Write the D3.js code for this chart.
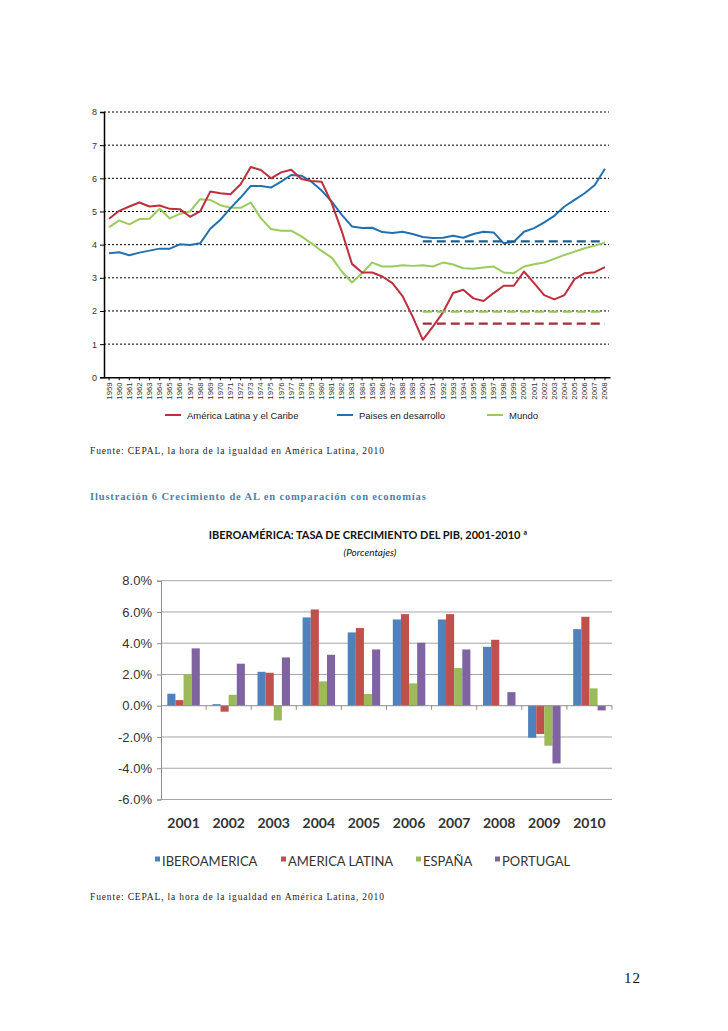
<!DOCTYPE html>
<html>
<head>
<meta charset="utf-8">
<script src="https://cdn.jsdelivr.net/npm/d3@7/dist/d3.min.js"></script>
<style>
  body { margin: 0; background: #fff; }
  svg { display: block; }
  .serif { font-family: "Liberation Serif", "DejaVu Serif", serif; }
</style>
</head>
<body>
<script>
// ---- grafico 1: crecimiento del PIB 1959-2008 (medias moviles)
var anios = ["1959","1960","1961","1962","1963","1964","1965","1966","1967","1968","1969",
  "1970","1971","1972","1973","1974","1975","1976","1977","1978","1979","1980","1981","1982",
  "1983","1984","1985","1986","1987","1988","1989","1990","1991","1992","1993","1994","1995",
  "1996","1997","1998","1999","2000","2001","2002","2003","2004","2005","2006","2007","2008"];
var americaLatina = [4.78,5.02,5.15,5.27,5.15,5.18,5.08,5.07,4.84,5.0,5.6,5.55,5.52,5.82,6.34,6.25,
  6.0,6.18,6.26,5.98,5.92,5.9,5.25,4.4,3.42,3.16,3.16,3.04,2.84,2.45,1.83,1.13,1.53,1.96,2.54,
  2.64,2.38,2.3,2.54,2.76,2.76,3.19,2.84,2.48,2.35,2.48,2.96,3.14,3.17,3.32];
var paisesDesarrollo = [3.74,3.77,3.68,3.76,3.82,3.88,3.88,4.01,3.99,4.04,4.48,4.75,5.1,5.42,5.77,
  5.77,5.72,5.9,6.1,6.08,5.9,5.63,5.3,4.9,4.55,4.5,4.51,4.38,4.35,4.39,4.32,4.23,4.2,4.21,4.27,
  4.21,4.32,4.39,4.37,4.04,4.09,4.39,4.5,4.67,4.87,5.15,5.35,5.55,5.8,6.29];
var mundo = [4.53,4.73,4.61,4.77,4.78,5.08,4.79,4.93,5.0,5.37,5.35,5.19,5.11,5.11,5.27,4.8,4.47,
  4.42,4.42,4.25,4.04,3.81,3.61,3.19,2.86,3.14,3.46,3.34,3.34,3.38,3.36,3.38,3.34,3.46,3.4,3.29,
  3.27,3.31,3.34,3.16,3.14,3.34,3.41,3.46,3.57,3.69,3.79,3.89,3.97,4.06];
var nombresLineas = ["América Latina y el Caribe","Paises en desarrollo","Mundo"];
var coloresLineas = ["#be2f3e","#2271b1","#9acb5c"];
var promedios = [1.62, 4.1, 1.98];          // 1990-2008, mismo orden que las series
var coloresPromedio = ["#a82a38","#1c5f8c","#93c45a"];
var yTicks1 = [0,1,2,3,4,5,6,7,8];

// ---- grafico 2: Iberoamerica, tasa de crecimiento del PIB 2001-2010
var anios2 = ["2001","2002","2003","2004","2005","2006","2007","2008","2009","2010"];
var paises2 = ["IBEROAMERICA","AMERICA LATINA","ESPAÑA","PORTUGAL"];
var iberoamerica = [0.77,0.1,2.17,5.65,4.69,5.52,5.52,3.77,-2.05,4.9];
var americaLatina2 = [0.36,-0.38,2.11,6.16,4.97,5.86,5.86,4.22,-1.81,5.69];
var espana = [2.0,0.7,-0.94,1.56,0.75,1.43,2.41,0.0,-2.56,1.11];
var portugal = [3.67,2.69,3.09,3.26,3.6,4.03,3.6,0.87,-3.69,-0.3];
var coloresBarras = ["#4f81bd","#c0504d","#9bbb59","#8064a2"];
var yTicks2 = [-6,-4,-2,0,2,4,6,8];

var svg = d3.select("body").append("svg").attr("width", 728).attr("height", 1031);
svg.append("rect").attr("width", 728).attr("height", 1031).attr("fill", "#fff");

// ================= grafico 1
var g1 = svg.append("g").attr("font-family", "'Liberation Sans', Arial, sans-serif");
var x = d3.scaleBand().domain(anios).range([104, 610]);
var y = d3.scaleLinear().domain([0, 8]).range([377.3, 112]);
var cx = function(a) { return x(a) + x.bandwidth() / 2; };

g1.selectAll(".grid").data(yTicks1.slice(1)).enter().append("line")
  .attr("x1", 104).attr("x2", 609)
  .attr("y1", function(d) { return y(d); }).attr("y2", function(d) { return y(d); })
  .attr("stroke", "#000").attr("stroke-width", 1).attr("stroke-dasharray", "2,2");

var ejeY = g1.append("g").attr("transform", "translate(104,0)")
  .call(d3.axisLeft(y).tickValues(yTicks1).tickSize(4).tickFormat(d3.format("d")));
ejeY.select(".domain").attr("stroke", "#000").attr("stroke-width", 1.5);
ejeY.selectAll("text").attr("font-size", 9).attr("fill", "#333").attr("font-family", null);

var ejeX = g1.append("g").attr("transform", "translate(0,377.3)")
  .call(d3.axisBottom(x).tickSize(3).tickSizeOuter(0));
ejeX.select(".domain").attr("stroke", "#000").attr("stroke-width", 1.5);
ejeX.selectAll("text").attr("font-size", 7.8).attr("fill", "#333").attr("font-family", null)
  .attr("transform", "rotate(-90)").attr("text-anchor", "end")
  .attr("x", -5).attr("y", 0).attr("dy", "0.32em");

var series = [americaLatina, paisesDesarrollo, mundo];
var linea = d3.line().x(function(d, i) { return cx(anios[i]); }).y(function(d) { return y(d); });
// mundo primero, luego paises, luego AL encima
[2, 1, 0].forEach(function(k) {
  g1.append("path").datum(series[k]).attr("d", linea)
    .attr("fill", "none").attr("stroke", coloresLineas[k]).attr("stroke-width", 2)
    .attr("stroke-linejoin", "round");
});
promedios.forEach(function(v, k) {
  g1.append("line").attr("x1", cx("1990")).attr("x2", cx("2008"))
    .attr("y1", y(v)).attr("y2", y(v))
    .attr("stroke", coloresPromedio[k]).attr("stroke-width", 2.2).attr("stroke-dasharray", "9,5");
});

var leyX = [165, 337, 487];
nombresLineas.forEach(function(n, k) {
  g1.append("line").attr("x1", leyX[k]).attr("x2", leyX[k] + 16).attr("y1", 415).attr("y2", 415)
    .attr("stroke", coloresLineas[k]).attr("stroke-width", 2);
  g1.append("text").attr("x", leyX[k] + 22).attr("y", 418.5).attr("font-size", 9.5)
    .attr("fill", "#222").text(n);
});

// textos de pagina
svg.append("text").attr("class", "serif").attr("x", 90).attr("y", 454).attr("font-size", 9.5)
  .attr("letter-spacing", 0.85).attr("fill", "#222")
  .text("Fuente: CEPAL, la hora de la igualdad en América Latina, 2010");
svg.append("text").attr("class", "serif").attr("x", 90).attr("y", 500).attr("font-size", 10.5)
  .attr("font-weight", "bold").attr("letter-spacing", 0.85).attr("fill", "#4f7fae")
  .text("Ilustración 6 Crecimiento de AL en comparación con economías");

// ================= grafico 2
var g2 = svg.append("g").attr("font-family", "Lato, 'Open Sans', sans-serif");
g2.append("text").attr("x", 368).attr("y", 539).attr("text-anchor", "middle").attr("font-size", 11)
  .attr("font-weight", "bold").attr("fill", "#111")
  .text("IBEROAMÉRICA: TASA DE CRECIMIENTO DEL PIB, 2001-2010 ª");
g2.append("text").attr("x", 370).attr("y", 556).attr("text-anchor", "middle").attr("font-size", 10)
  .attr("font-style", "italic").attr("fill", "#111").text("(Porcentajes)");

var x0 = d3.scaleBand().domain(anios2).range([161, 612]).paddingInner(0.28).paddingOuter(0.14);
var x1 = d3.scaleBand().domain(paises2).range([0, x0.bandwidth()]);
var y2 = d3.scaleLinear().domain([-6, 8]).range([799.5, 580.7]);

g2.selectAll(".grid2").data(yTicks2.filter(function(d) { return d !== 0; })).enter().append("line")
  .attr("x1", 161).attr("x2", 612)
  .attr("y1", function(d) { return y2(d); }).attr("y2", function(d) { return y2(d); })
  .attr("stroke", "#a6a6a6").attr("stroke-width", 1);

var ejeY2 = g2.append("g").attr("transform", "translate(161,0)")
  .call(d3.axisLeft(y2).tickValues(yTicks2).tickSize(4)
    .tickFormat(function(d) { return d.toFixed(1) + "%"; }));
ejeY2.select(".domain").attr("stroke", "#8c8c8c");
ejeY2.selectAll("line").attr("stroke", "#8c8c8c");
ejeY2.selectAll("text").attr("font-size", 13).attr("fill", "#333").attr("font-family", null).attr("x", -9);

var datos2 = [iberoamerica, americaLatina2, espana, portugal];
datos2.forEach(function(vals, k) {
  g2.selectAll(".b" + k).data(vals).enter().append("rect")
    .attr("x", function(d, i) { return x0(anios2[i]) + x1(paises2[k]); })
    .attr("width", x1.bandwidth())
    .attr("y", function(d) { return y2(Math.max(0, d)); })
    .attr("height", function(d) { return Math.abs(y2(d) - y2(0)); })
    .attr("fill", coloresBarras[k]);
});

// linea de cero con marcas entre grupos
g2.append("line").attr("x1", 161).attr("x2", 612).attr("y1", y2(0)).attr("y2", y2(0))
  .attr("stroke", "#8c8c8c");
g2.selectAll(".tk").data(anios2).enter().append("line")
  .attr("x1", function(d) { return x0(d) - x0.step() * 0.14 + x0.step(); })
  .attr("x2", function(d) { return x0(d) - x0.step() * 0.14 + x0.step(); })
  .attr("y1", y2(0)).attr("y2", y2(0) + 4).attr("stroke", "#8c8c8c");

g2.selectAll(".anio").data(anios2).enter().append("text")
  .attr("x", function(d) { return x0(d) + x0.bandwidth() / 2; }).attr("y", 828)
  .attr("text-anchor", "middle").attr("font-size", 14).attr("font-weight", "bold")
  .attr("fill", "#333").text(function(d) { return d; });

var leyX2 = [155, 281, 416, 495];
paises2.forEach(function(n, k) {
  g2.append("rect").attr("x", leyX2[k]).attr("y", 856.5).attr("width", 5).attr("height", 5)
    .attr("fill", coloresBarras[k]);
  g2.append("text").attr("x", leyX2[k] + 7).attr("y", 865.5).attr("font-size", 13)
    .attr("fill", "#333").text(n);
});

svg.append("text").attr("class", "serif").attr("x", 90).attr("y", 900).attr("font-size", 9.5)
  .attr("letter-spacing", 0.85).attr("fill", "#222")
  .text("Fuente: CEPAL, la hora de la igualdad en América Latina, 2010");
svg.append("text").attr("class", "serif").attr("x", 624).attr("y", 983).attr("font-size", 15)
  .attr("letter-spacing", 1).attr("fill", "#111").text("12");
</script>
</body>
</html>
